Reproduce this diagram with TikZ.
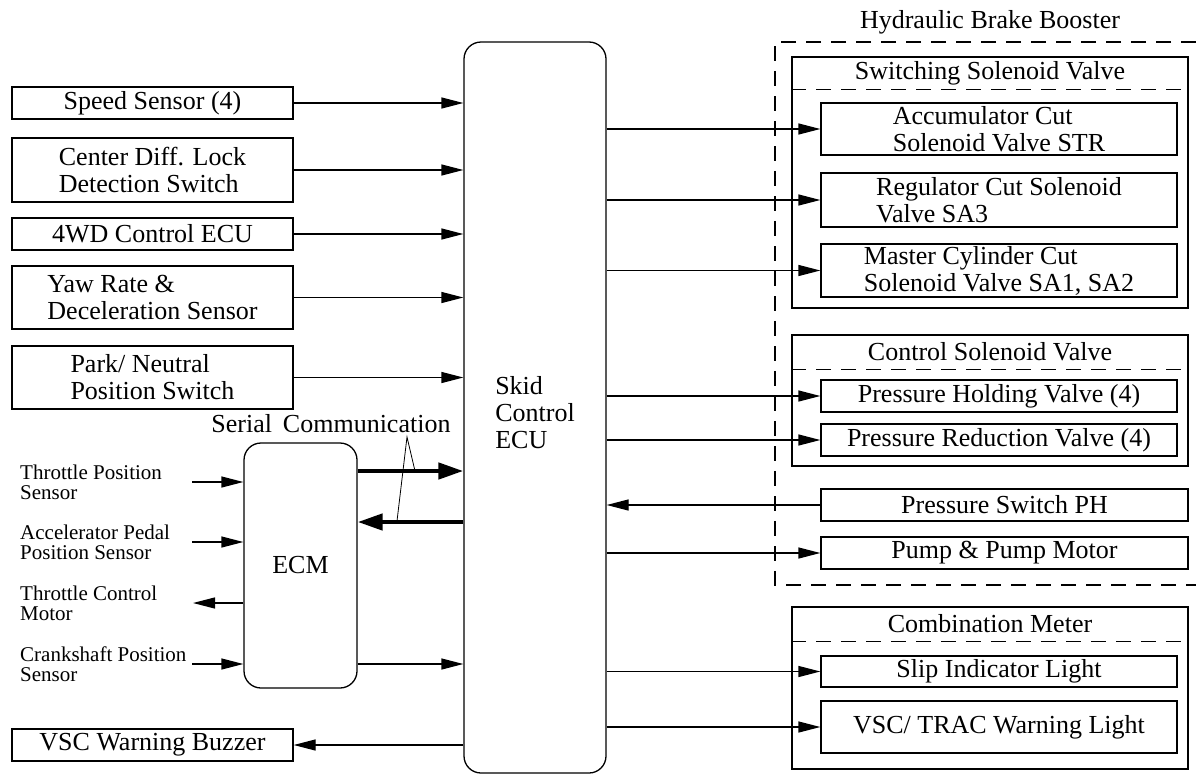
\documentclass[tikz,border=0pt]{standalone}
\usepackage{fontspec}
\setmainfont{Liberation Serif}
\usetikzlibrary{arrows.meta,calc}
\begin{document}
\begin{tikzpicture}[x=1pt,y=-1pt,
  lw/.style={line width=1.3pt},
  box/.style={draw,lw,inner sep=0pt,align=left,font=\fontsize{26}{27}\selectfont},
  rbox/.style={box,rounded corners=17pt},
  txt/.style={inner sep=0pt,align=left,font=\fontsize{26}{27}\selectfont},
  small/.style={inner sep=0pt,align=left,anchor=west,font=\fontsize{21}{20}\selectfont},
  conn/.style={lw,-{Triangle[length=22pt,width=11pt]}},
  bus/.style={line width=4.5pt,-{Triangle[length=25pt,width=16pt]}},
  dashline/.style={lw,dash pattern=on 15pt off 10pt},
  lead/.style={line width=0.8pt}]
\useasboundingbox (0,0) rectangle (1196,774);

% left input boxes
\node[box,minimum width=281pt,minimum height=32pt] (speed) at (152.5,103) {Speed Sensor (4)};
\node[box,minimum width=281pt,minimum height=64pt] (diff) at (152.5,170) {Center Diff. Lock\\Detection Switch};
\node[box,minimum width=281pt,minimum height=32pt] (fwd) at (152.5,234) {4WD Control ECU};
\node[box,minimum width=281pt,minimum height=63pt] (yaw) at (152.5,297.5) {Yaw Rate \&\\Deceleration Sensor};
\node[box,minimum width=281pt,minimum height=63pt] (park) at (152.5,377.5) {Park/ Neutral\\Position Switch};
\node[box,minimum width=281pt,minimum height=32pt] (buzz) at (152.5,745) {VSC Warning Buzzer};

% ECUs
\node[rbox,minimum width=142pt,minimum height=731pt] (ecu) at (535,407.5) {};
\node[txt] (ecutxt) at (535,413) {Skid\\Control\\ECU};
\node[rbox,minimum width=113pt,minimum height=245pt] (ecm) at (300.5,565.5) {ECM};

% ECM side texts
\node[small] (tps) at (20,482) {Throttle Position\\Sensor};
\node[small] (aps) at (20,542) {Accelerator Pedal\\Position Sensor};
\node[small] (tcm) at (20,603) {Throttle Control\\Motor};
\node[small] (cps) at (20,664) {Crankshaft Position\\Sensor};
\coordinate (tpsin) at (192,482);
\coordinate (apsin) at (192,542);
\coordinate (tcmout) at (193,603);
\coordinate (cpsin) at (192,664);

% Hydraulic Brake Booster
\draw[dashline] (1196,42) -- (775,42) -- (775,585) -- (1196,585);
\node[txt] (hbb) at (990,22) {Hydraulic Brake Booster};

\node[box,minimum width=396pt,minimum height=251pt] (sw) at (990,182.5) {};
\node[txt] (swt) at (990,73) {Switching Solenoid Valve};
\draw[dashline] ($(sw.north west)+(0,33)$) -- ($(sw.north east)+(0,33)$);
\node[box,minimum width=356pt,minimum height=52pt] (acc) at (999,129) {Accumulator Cut\\Solenoid Valve STR};
\node[box,minimum width=356pt,minimum height=54pt] (reg) at (999,200) {Regulator Cut Solenoid\\Valve SA3};
\node[box,minimum width=356pt,minimum height=53pt] (mst) at (999,270.5) {Master Cylinder Cut\\Solenoid Valve SA1, SA2};

\node[box,minimum width=396pt,minimum height=131pt] (ctrl) at (990,400.5) {};
\node[txt] (ctrlt) at (990,352) {Control Solenoid Valve};
\draw[dashline] ($(ctrl.north west)+(0,35)$) -- ($(ctrl.north east)+(0,35)$);
\node[box,minimum width=356pt,minimum height=32pt] (hold) at (999,396) {Pressure Holding Valve (4)};
\node[box,minimum width=356pt,minimum height=32pt] (red) at (999,440) {Pressure Reduction Valve (4)};

\node[box,minimum width=367pt,minimum height=32pt] (psw) at (1004.5,505) {Pressure Switch PH};
\node[box,minimum width=367pt,minimum height=32pt] (pump) at (1004.5,553) {Pump \& Pump Motor};

% Combination meter
\node[box,minimum width=396pt,minimum height=162pt] (comb) at (990,688) {};
\node[txt] (combt) at (990,624) {Combination Meter};
\draw[dashline] ($(comb.north west)+(0,35)$) -- ($(comb.north east)+(0,35)$);
\node[box,minimum width=356pt,minimum height=31pt] (slip) at (999,671.5) {Slip Indicator Light};
\node[box,minimum width=356pt,minimum height=52pt] (vsc) at (999,727) {VSC/ TRAC Warning Light};

% left connectors
\foreach \n in {speed,diff,fwd,yaw,park}
  \draw[conn] (\n.east) -- (\n.east -| ecu.west);
\draw[conn] (buzz.east -| ecu.west) -- (buzz.east);

% ECM connectors
\draw[conn] (tpsin) -- (tpsin -| ecm.west);
\draw[conn] (apsin) -- (apsin -| ecm.west);
\draw[conn] (tcmout -| ecm.west) -- (tcmout);
\draw[conn] (cpsin) -- (cpsin -| ecm.west);
\draw[conn] (cpsin -| ecm.east) -- (cpsin -| ecu.west);

% serial communication
\coordinate (busout) at (0,471);
\coordinate (busin) at (0,522);
\draw[bus] (busout -| ecm.east) -- (busout -| ecu.west);
\draw[bus] (busin -| ecu.west) -- (busin -| ecm.east);
\node[txt] (serial) at (331,424) {Serial\, Communication};
\coordinate (apex) at (407,437);
\coordinate (lead1) at (415,471);
\coordinate (lead2) at (397,521);
\draw[lead] (lead1) -- (apex) -- (lead2);

% right connectors
\foreach \n in {acc,reg,mst,hold,red,pump,slip,vsc}
  \draw[conn] (\n.west -| ecu.east) -- (\n.west);
\draw[conn] (psw.west) -- (psw.west -| ecu.east);
\end{tikzpicture}
\end{document}
